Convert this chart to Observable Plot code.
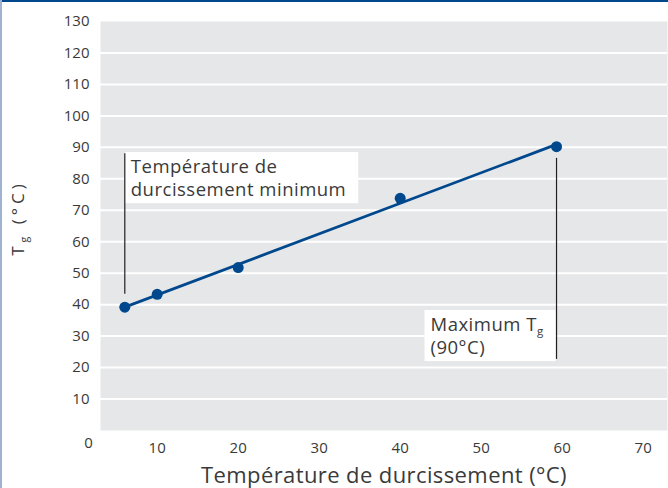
<!DOCTYPE html>
<html><head><meta charset="utf-8">
<script src="https://cdn.jsdelivr.net/npm/d3@7"></script>
<script src="https://cdn.jsdelivr.net/npm/@observablehq/plot@0.6"></script>
<style>
body{margin:0;background:#fff;}
#wrap{position:relative;width:668px;height:488px;overflow:hidden;}
#wrap .bt{position:absolute;left:0;top:0;width:668px;height:2px;background:#00488d;}
#wrap .bl{position:absolute;left:0;top:0;width:2px;height:488px;background:#9fb2d0;}
svg{display:block;}
</style></head><body><div id="wrap"></div>
<script>
// Data
const cureTemp = [6, 10, 20, 40, 59.3];          // Température de durcissement (°C)
const tgValues = [39.2, 43.3, 51.8, 73.8, 90.2]; // Tg (°C)
const xTicks = [10, 20, 30, 40, 50, 60, 70];
const yTicks = [10, 20, 30, 40, 50, 60, 70, 80, 90, 100, 110, 120, 130];
const gridLevels = [10, 20, 30, 40, 50, 60, 70, 80, 90, 100, 110, 120];
const originLabel = ["0"];
// annotations
const noteX = [6, 59.3];
const noteTop = [88, 86.5];
const noteBottom = [43.3, 22.6];
const noteTextX = [6, 43.0];
const noteTextY = [88, 37.8];
const noteTexts = ["Température de\ndurcissement minimum", "Maximum T_g\n(90°C)"];
const xTitle = ["Température de durcissement (°C)"];
const yTitle = ["T_g (°C)"];

const points = cureTemp.map((x, i) => ({x, y: tgValues[i]}));
const notes = noteX.map((x, i) => ({x, y1: noteTop[i], y2: noteBottom[i], tx: noteTextX[i], ty: noteTextY[i], text: noteTexts[i]}));

const blue = "#00488d";
const ink = "#3a3a3a";
const chart = Plot.plot({
  width: 668, height: 488,
  marginLeft: 100, marginRight: 1, marginTop: 21, marginBottom: 58,
  x: {domain: [3, 73]},
  y: {domain: [0, 130]},
  style: {fontFamily: "'Open Sans', sans-serif", color: ink, background: "transparent"},
  marks: [
    Plot.frame({fill: "#e6e7e8", stroke: null}),
    Plot.gridY(gridLevels, {stroke: "#ffffff", strokeOpacity: 1, strokeWidth: 2}),
    Plot.axisY({ticks: yTicks, tickSize: 0, tickPadding: 11, fontSize: 15, label: null}),
    Plot.axisX({ticks: xTicks, tickSize: 0, tickPadding: 12, fontSize: 15, label: null}),
    Plot.text(originLabel, {text: d => d, frameAnchor: "bottom-left", dx: -12, dy: 13, fontSize: 15, textAnchor: "middle", lineAnchor: "middle", fill: ink}),
    Plot.text(xTitle, {text: d => d, frameAnchor: "bottom", dy: 45, fontSize: 22, lineAnchor: "middle", fill: ink, ariaLabel: () => "xtitle"}),
    Plot.text(yTitle, {text: d => d, frameAnchor: "left", dx: -82, dy: -8, rotate: -90, fontSize: 17, textAnchor: "middle", lineAnchor: "middle", fill: ink, ariaLabel: () => "ytitle"}),
    Plot.text(notes, {x: "tx", y: "ty", text: "text", textAnchor: "start", lineAnchor: "top", dx: 6, dy: 3, fontSize: 18.5, lineHeight: 1.25, fill: ink, ariaLabel: () => "note"}),
    Plot.ruleX(notes, {x: "x", y1: "y1", y2: "y2", stroke: "#231f20", strokeWidth: 1.2}),
    Plot.linearRegressionY(points, {x: "x", y: "y", stroke: blue, strokeWidth: 2.8, ci: 0}),
    Plot.dot(points, {x: "x", y: "y", r: 5.5, fill: blue, stroke: null})
  ]
});
const wrap = document.getElementById("wrap");
wrap.appendChild(chart);
const bt = document.createElement("div"); bt.className = "bt"; wrap.appendChild(bt);
const bl = document.createElement("div"); bl.className = "bl"; wrap.appendChild(bl);

const ns = "http://www.w3.org/2000/svg";
chart.querySelectorAll('text[aria-label="xtitle"]').forEach(t => t.setAttribute("letter-spacing", "0.4"));
chart.querySelectorAll('text[aria-label="ytitle"]').forEach(t => t.setAttribute("letter-spacing", "4"));
chart.querySelectorAll('text[aria-label="note"]').forEach(t => t.setAttribute("letter-spacing", "0.5"));

function subscript(el) {
  const s = el.textContent;
  if (!s.includes("_g")) return;
  const [a, b] = s.split("_g");
  el.textContent = a;
  const sub = document.createElementNS(ns, "tspan");
  sub.setAttribute("baseline-shift", "-4");
  sub.setAttribute("font-size", "62%");
  sub.textContent = "g";
  el.appendChild(sub);
  if (b) el.appendChild(document.createTextNode(b));
}
chart.querySelectorAll("text").forEach(t => {
  const kids = t.querySelectorAll("tspan");
  if (kids.length) kids.forEach(subscript); else subscript(t);
});
// white boxes behind the annotation texts
chart.querySelectorAll('text[aria-label="note"]').forEach(t => {
  const bb = t.getBBox();
  const r = document.createElementNS(ns, "rect");
  r.setAttribute("x", bb.x - 6);
  r.setAttribute("y", bb.y - 1);
  r.setAttribute("width", bb.width + 18);
  r.setAttribute("height", bb.height + 3);
  r.setAttribute("fill", "#ffffff");
  const tr = t.getAttribute("transform");
  if (tr) r.setAttribute("transform", tr);
  t.parentNode.insertBefore(r, t);
});
</script></body></html>
